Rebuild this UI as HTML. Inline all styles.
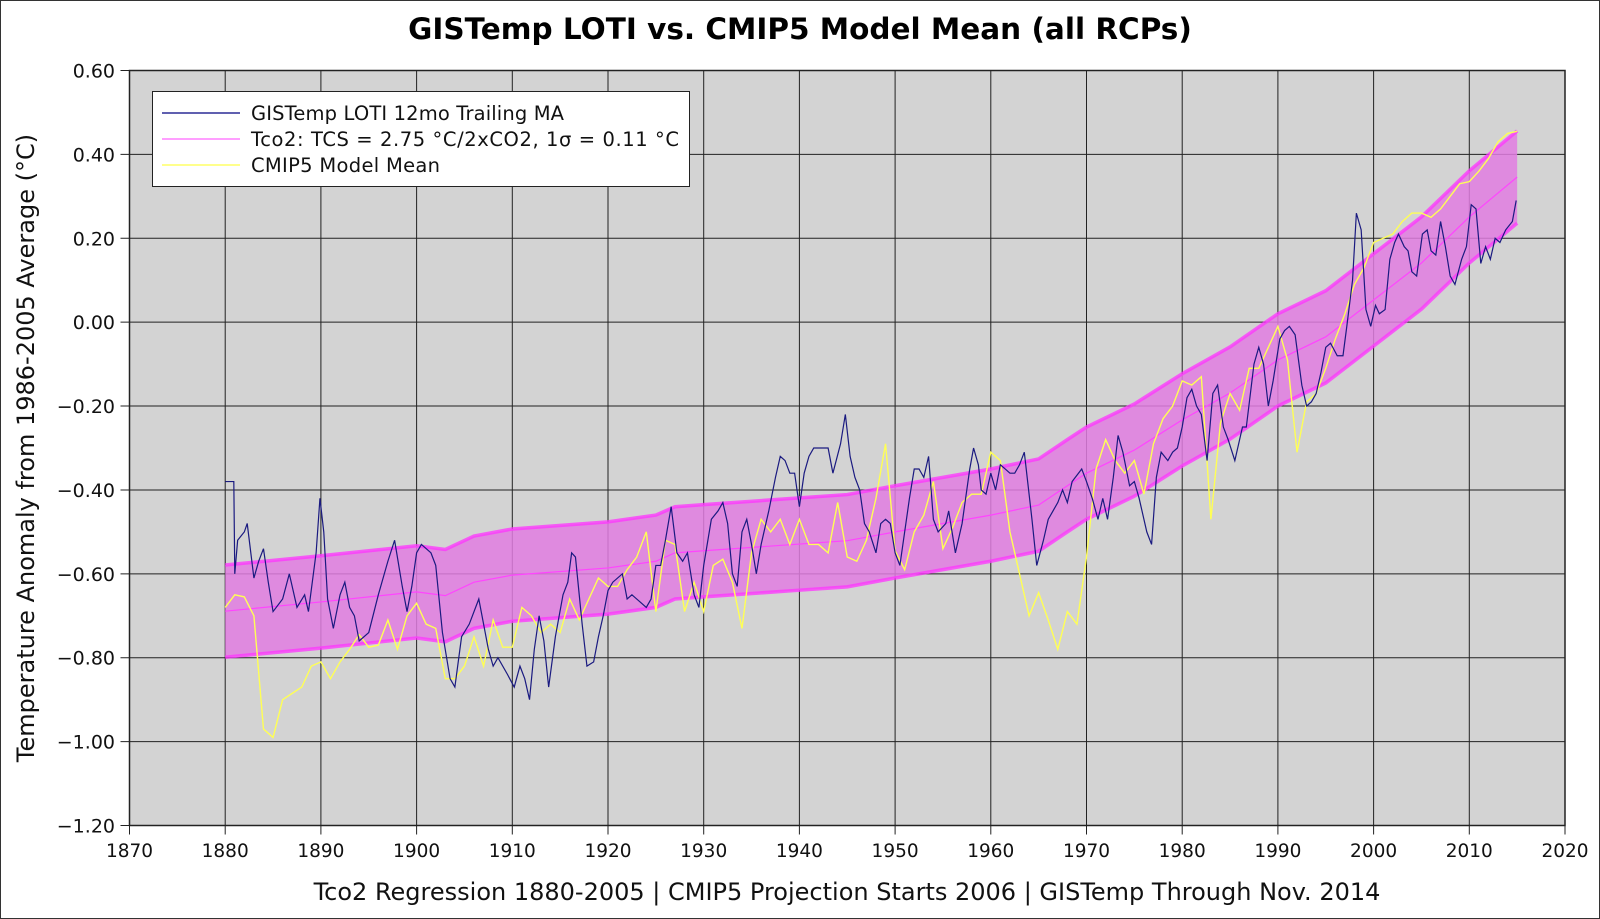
<!DOCTYPE html>
<html><head><meta charset="utf-8"><style>
html,body{margin:0;padding:0;background:#fff;}
svg{display:block;font-family:"DejaVu Sans","Liberation Sans",sans-serif;}
</style></head><body>
<svg id="chart" width="1600" height="919" viewBox="0 0 1600 919" xmlns="http://www.w3.org/2000/svg">
<rect x="0.5" y="0.5" width="1599" height="918" fill="#fff" stroke="#333" stroke-width="1"/>
<text x="800" y="39" text-anchor="middle" font-size="29.5" font-weight="bold" fill="#000">GISTemp LOTI vs. CMIP5 Model Mean (all RCPs)</text>
<rect x="129.5" y="70.5" width="1435.5" height="755" fill="#d3d3d3"/>
<g id="grid"></g>
<g id="series"></g>
<rect x="129.5" y="70.5" width="1435.5" height="755" fill="none" stroke="#222" stroke-width="1.5"/>
<g id="ticks"></g>
<text x="847" y="900" text-anchor="middle" font-size="24" fill="#111">Tco2 Regression 1880-2005 | CMIP5 Projection Starts 2006 | GISTemp Through Nov. 2014</text>
<text transform="translate(34,448) rotate(-90)" text-anchor="middle" font-size="24" fill="#111">Temperature Anomaly from 1986-2005 Average (°C)</text>
<g>
<rect x="152.5" y="91.5" width="537" height="95" fill="#fff" stroke="#222" stroke-width="1"/>
<line x1="162" y1="113" x2="240" y2="113" stroke="#000080" stroke-width="1.2"/>
<text x="251" y="120" font-size="19.5" fill="#111" textLength="313" lengthAdjust="spacing">GISTemp LOTI 12mo Trailing MA</text>
<line x1="162" y1="139" x2="240" y2="139" stroke="#ff66ff" stroke-width="1.2"/>
<text x="251" y="146" font-size="19.5" fill="#111" textLength="428" lengthAdjust="spacing">Tco2: TCS = 2.75 °C/2xCO2, 1σ = 0.11 °C</text>
<line x1="162" y1="165" x2="240" y2="165" stroke="#ffff66" stroke-width="1.5"/>
<text x="251" y="172" font-size="19.5" fill="#111" textLength="189" lengthAdjust="spacing">CMIP5 Model Mean</text>
</g>
</svg>
<script>
const xTicks=[1870,1880,1890,1900,1910,1920,1930,1940,1950,1960,1970,1980,1990,2000,2010,2020];
const yTicks=[0.6,0.4,0.2,0,-0.2,-0.4,-0.6,-0.8,-1.0,-1.2];
const tco2Years=[1880,1890,1900,1903,1906,1910,1920,1925,1927,1930,1940,1945,1950,1960,1965,1968,1970,1975,1980,1985,1990,1995,2000,2005,2010,2015];
const tco2Values=[-0.689,-0.667,-0.643,-0.652,-0.62,-0.603,-0.586,-0.57,-0.55,-0.545,-0.529,-0.521,-0.50,-0.46,-0.436,-0.39,-0.36,-0.305,-0.233,-0.169,-0.09,-0.035,0.053,0.141,0.251,0.346];
const tco2Sigma=0.11;
const cmipYears=[];for(let y=1880;y<=2015;y++)cmipYears.push(y);
const cmipValues=[-0.68,-0.65,-0.655,-0.70,-0.97,-0.99,-0.90,-0.885,-0.87,-0.82,-0.81,-0.85,-0.81,-0.78,-0.745,-0.775,-0.77,-0.71,-0.78,-0.70,
-0.67,-0.72,-0.73,-0.85,-0.85,-0.82,-0.75,-0.82,-0.71,-0.775,-0.775,-0.68,-0.70,-0.74,-0.72,-0.74,-0.66,-0.71,-0.66,-0.61,
-0.63,-0.63,-0.59,-0.56,-0.5,-0.69,-0.52,-0.53,-0.69,-0.62,-0.69,-0.58,-0.565,-0.62,-0.73,-0.55,-0.47,-0.50,-0.47,-0.53,
-0.47,-0.53,-0.53,-0.55,-0.43,-0.56,-0.57,-0.52,-0.42,-0.29,-0.545,-0.59,-0.5,-0.46,-0.38,-0.54,-0.49,-0.43,-0.41,-0.41,
-0.31,-0.33,-0.50,-0.60,-0.70,-0.645,-0.71,-0.78,-0.69,-0.72,-0.56,-0.35,-0.28,-0.33,-0.36,-0.33,-0.41,-0.29,-0.23,-0.20,
-0.14,-0.15,-0.13,-0.47,-0.24,-0.17,-0.21,-0.11,-0.11,-0.06,-0.01,-0.09,-0.31,-0.19,-0.17,-0.11,-0.04,0.02,0.09,0.13,
0.19,0.20,0.21,0.24,0.26,0.26,0.25,0.27,0.30,0.33,0.335,0.36,0.39,0.43,0.45,0.455];
const gisYears=[1880.0,1880.9,1881,1881.3,1882,1882.3,1883,1883.5,1884,1884.5,1885,1886,1886.7,1887.5,1888.3,1888.7,1889.5,1889.9,1890.3,1890.7,1891.3,1892,1892.5,1893,1893.5,1894,1895,1896,1897,1897.7,1898.5,1899,1899.5,1900,1900.5,1901.5,1902,1902.7,1903.5,1904,1904.7,1905.5,1906.5,1907,1907.5,1908,1908.5,1909.5,1910.2,1910.8,1911.3,1911.8,1912.3,1912.8,1913.3,1913.8,1914.5,1915.3,1915.8,1916.2,1916.6,1917.3,1917.8,1918.5,1919.0,1919.5,1920,1920.5,1921.5,1922,1922.5,1923.5,1924,1924.5,1925,1925.5,1926,1926.6,1927.2,1927.8,1928.3,1929,1929.5,1930,1930.8,1931.5,1932,1932.5,1933,1933.5,1934,1934.5,1935,1935.5,1936,1936.8,1937.5,1938,1938.5,1939,1939.5,1940,1940.5,1941,1941.5,1942.5,1943,1943.5,1944.3,1944.8,1945.3,1945.8,1946.3,1946.8,1947.3,1948,1948.5,1949,1949.5,1950,1950.5,1951.5,1952,1952.5,1953,1953.5,1954,1954.5,1955.3,1955.6,1956.3,1957,1957.8,1958.2,1958.7,1959,1959.5,1960,1960.5,1961,1961.5,1962,1962.5,1963,1963.5,1964.3,1964.8,1965.5,1966,1966.5,1967,1967.5,1968,1968.5,1969.5,1970,1970.6,1971.2,1971.7,1972.2,1972.8,1973.3,1973.8,1974.5,1975,1975.5,1976.3,1976.8,1977.3,1977.8,1978.5,1979,1979.5,1980,1980.5,1981,1981.5,1982,1982.6,1983.2,1983.7,1984.3,1984.8,1985.5,1986.3,1986.7,1987.5,1988,1988.5,1989,1989.5,1990.2,1990.7,1991.2,1991.8,1992.5,1993,1993.5,1994,1994.5,1995,1995.5,1996.2,1996.8,1997.2,1997.8,1998.2,1998.7,1999.2,1999.7,2000.2,2000.6,2001.2,2001.7,2002.2,2002.6,2003.2,2003.6,2004,2004.5,2005.1,2005.6,2006,2006.5,2007,2007.5,2008.0,2008.5,2009.2,2009.7,2010.2,2010.7,2011.2,2011.7,2012.2,2012.7,2013.2,2013.8,2014.5,2014.9];
const gisValues=[-0.38,-0.38,-0.60,-0.52,-0.50,-0.48,-0.61,-0.57,-0.54,-0.62,-0.69,-0.66,-0.60,-0.68,-0.65,-0.69,-0.55,-0.42,-0.5,-0.66,-0.73,-0.65,-0.62,-0.68,-0.70,-0.76,-0.74,-0.65,-0.57,-0.52,-0.63,-0.69,-0.63,-0.55,-0.53,-0.55,-0.58,-0.74,-0.85,-0.87,-0.75,-0.72,-0.66,-0.72,-0.78,-0.82,-0.80,-0.84,-0.87,-0.82,-0.85,-0.90,-0.78,-0.70,-0.76,-0.87,-0.75,-0.65,-0.62,-0.55,-0.56,-0.72,-0.82,-0.81,-0.75,-0.70,-0.64,-0.62,-0.60,-0.66,-0.65,-0.67,-0.68,-0.66,-0.58,-0.58,-0.52,-0.44,-0.55,-0.57,-0.55,-0.65,-0.68,-0.58,-0.47,-0.45,-0.43,-0.48,-0.60,-0.63,-0.50,-0.47,-0.53,-0.60,-0.53,-0.45,-0.37,-0.32,-0.33,-0.36,-0.36,-0.44,-0.36,-0.32,-0.30,-0.30,-0.30,-0.36,-0.29,-0.22,-0.32,-0.37,-0.40,-0.48,-0.50,-0.55,-0.48,-0.47,-0.48,-0.55,-0.58,-0.42,-0.35,-0.35,-0.37,-0.32,-0.47,-0.50,-0.48,-0.45,-0.55,-0.48,-0.35,-0.30,-0.34,-0.40,-0.41,-0.36,-0.40,-0.34,-0.35,-0.36,-0.36,-0.34,-0.31,-0.47,-0.58,-0.52,-0.47,-0.45,-0.43,-0.40,-0.43,-0.38,-0.35,-0.38,-0.42,-0.47,-0.42,-0.47,-0.37,-0.27,-0.31,-0.39,-0.38,-0.42,-0.50,-0.53,-0.37,-0.31,-0.33,-0.31,-0.30,-0.25,-0.18,-0.16,-0.20,-0.22,-0.33,-0.17,-0.15,-0.25,-0.28,-0.33,-0.25,-0.25,-0.10,-0.06,-0.10,-0.20,-0.14,-0.04,-0.02,-0.01,-0.03,-0.15,-0.20,-0.19,-0.17,-0.12,-0.06,-0.05,-0.08,-0.08,-0.01,0.10,0.26,0.22,0.03,-0.01,0.04,0.02,0.03,0.15,0.19,0.21,0.18,0.17,0.12,0.11,0.21,0.22,0.17,0.16,0.24,0.18,0.11,0.09,0.15,0.18,0.28,0.27,0.14,0.18,0.15,0.20,0.19,0.22,0.24,0.29];

const NS='http://www.w3.org/2000/svg';
const L=129.5,R=1565,T=70.5,B=825.5;
const xS=v=>L+(v-1870)/(2020-1870)*(R-L);
const yS=v=>T+(0.6-v)/(1.8)*(B-T);
function mk(tag,parent){const e=document.createElementNS(NS,tag);parent.appendChild(e);return e;}
const grid=document.getElementById('grid'),ticks=document.getElementById('ticks'),series=document.getElementById('series');
xTicks.forEach(v=>{
  const x=xS(v);
  const g=mk('line',grid);
  
  
  g.setAttribute('x1',x);g.setAttribute('x2',x);g.setAttribute('y1',T);g.setAttribute('y2',B+9);
  g.setAttribute('stroke','#222');g.setAttribute('stroke-width','1');
  const t=mk('text',ticks);
  
  
  t.setAttribute('x',x);t.setAttribute('y',857);t.setAttribute('text-anchor','middle');t.setAttribute('font-size','18.5');t.setAttribute('fill','#111');
  t.textContent=String(v);
});
yTicks.forEach(v=>{
  const y=yS(v);
  const g=mk('line',grid);
  
  
  g.setAttribute('x1',L-9);g.setAttribute('x2',R);g.setAttribute('y1',y);g.setAttribute('y2',y);
  g.setAttribute('stroke','#222');g.setAttribute('stroke-width','1');
  const t=mk('text',ticks);
  
  
  t.setAttribute('x',115);t.setAttribute('y',y+7);t.setAttribute('text-anchor','end');t.setAttribute('font-size','19');t.setAttribute('fill','#111');
  t.textContent=v.toFixed(2).replace('-','\u2212');
});
let up=tco2Years.map((yr,i)=>xS(yr)+','+yS(tco2Values[i]+tco2Sigma));
let lo=tco2Years.map((yr,i)=>xS(yr)+','+yS(tco2Values[i]-tco2Sigma)).reverse();
const band=mk('polygon',series);


band.setAttribute('points',up.concat(lo).join(' '));
band.setAttribute('fill','#e07de0');band.setAttribute('fill-opacity','0.85');
[['tco2-upper-edge',tco2Sigma],['tco2-lower-edge',-tco2Sigma]].forEach(([n,s])=>{
  const p=mk('polyline',series);
  
  
  p.setAttribute('points',tco2Years.map((yr,i)=>xS(yr)+','+yS(tco2Values[i]+s)).join(' '));
  p.setAttribute('fill','none');p.setAttribute('stroke','#ff33ff');p.setAttribute('stroke-width','3.5');p.setAttribute('stroke-opacity','0.75');
});
const c=mk('polyline',series);


c.setAttribute('points',tco2Years.map((yr,i)=>xS(yr)+','+yS(tco2Values[i])).join(' '));
c.setAttribute('fill','none');c.setAttribute('stroke','#ff44ff');c.setAttribute('stroke-width','1.2');
const cm=mk('polyline',series);


cm.setAttribute('points',cmipYears.map((yr,i)=>xS(yr)+','+yS(cmipValues[i])).join(' '));
cm.setAttribute('fill','none');cm.setAttribute('stroke','#ffff55');cm.setAttribute('stroke-width','1.4');
const gs=mk('polyline',series);


gs.setAttribute('points',gisYears.map((yr,i)=>xS(yr)+','+yS(gisValues[i])).join(' '));
gs.setAttribute('fill','none');gs.setAttribute('stroke','#1a1a80');gs.setAttribute('stroke-width','1.2');
</script>
</body></html>
